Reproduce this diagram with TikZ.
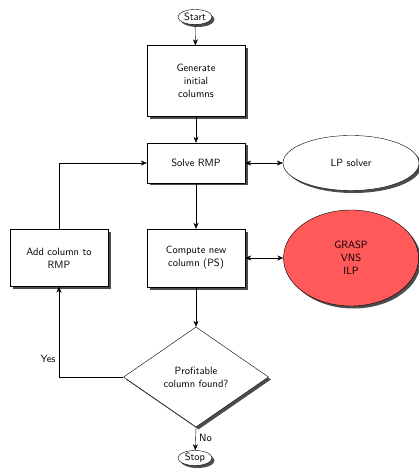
\documentclass[tikz,border=0pt]{standalone}
\usetikzlibrary{shapes.geometric,shadows,arrows.meta}
\begin{document}
\begin{tikzpicture}[x=1pt,y=-1pt,
  font=\sffamily\fontsize{10.5}{13}\selectfont,
  every node/.style={align=center},
  shade/.style={drop shadow={shadow xshift=2.5pt,shadow yshift=-2.5pt,fill=black!70,opacity=1}},
  procbox/.style={draw,fill=white,shade,minimum width=98pt,inner sep=2pt},
  terminal/.style={ellipse,draw,fill=white,shade,minimum width=34pt,minimum height=15pt,inner sep=0pt},
  tool/.style={ellipse,draw,shade,inner sep=0pt},
  decision/.style={diamond,draw,fill=white,shade,minimum width=145pt,minimum height=100pt,inner sep=0pt},
  flow/.style={draw,-{Stealth[length=6pt,width=5pt]}},
  biflow/.style={draw,{Stealth[length=6pt,width=5pt]}-{Stealth[length=6pt,width=5pt]}}]
\useasboundingbox (0,0) rectangle (419,470);
\node[terminal] (start) at (195,17) {Start};
\node[procbox,minimum height=71pt] (gen) at (196,81) {Generate\\initial\\columns};
\node[procbox,minimum height=40pt] (rmp) at (196,163) {Solve RMP};
\node[tool,fill=white,minimum width=136pt,minimum height=55pt] (lp) at (351,163) {LP solver};
\node[procbox,minimum height=57pt] (add) at (59,258) {Add column to\\RMP};
\node[procbox,minimum height=58pt] (ps) at (196,258) {Compute new\\column (PS)};
\node[tool,fill=red!65!white,minimum width=135pt,minimum height=96pt] (heur) at (351,258) {GRASP\\VNS\\ILP};
\node[decision] (dec) at (196,377) {Profitable\\column found?};
\node[terminal] (stop) at (195,458) {Stop};
\coordinate (yesc) at (59,377);
\coordinate (loopc) at (59,163);
\path[flow] (start) -- (gen);
\path[flow] (gen) -- (rmp);
\path[flow] (rmp) -- (ps);
\path[flow] (ps) -- (dec);
\path[biflow] (rmp) -- (lp);
\path[biflow] (ps) -- (heur);
\path[flow] (dec.west) -- (yesc) -- node[left,pos=0.2] {Yes} (add.south);
\path[flow] (add.north) -- (loopc) -- (rmp.west);
\path[flow] (dec.south) -- node[right,pos=0.45] {No} (stop);
\end{tikzpicture}
\end{document}
